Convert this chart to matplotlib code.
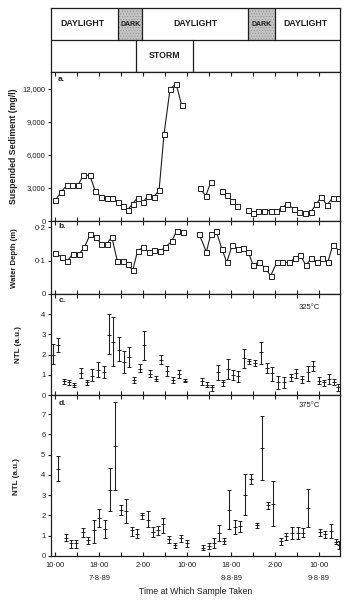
import numpy as np
import matplotlib
matplotlib.use("Agg")
import matplotlib.pyplot as plt
from matplotlib.patches import Rectangle
from matplotlib.transforms import blended_transform_factory

plt.rcParams['font.family'] = ['Liberation Sans', 'DejaVu Sans']
plt.rcParams['hatch.linewidth'] = 0.4

# time axis: hours after midnight on 7-8-89
tick_hours = [10, 14, 18, 22, 26, 30, 34, 38, 42, 46, 50, 54, 58]
tick_labels = ['10·00', '', '18·00', '', '2·00', '', '10·00', '', '18·00', '', '2·00', '', '10·00']
date_hours = [18, 42, 58]
date_labels = ['7·8·89', '8·8·89', '9·8·89']

# light / storm bars
dark_periods = [(21.5, 25.8), (45.0, 50.0)]
storm_period = (24.7, 35.0)
light_text_hours = [15.0, 35.5, 55.6]

# a. suspended sediment (mg/l), nan = no sample
sed_hours = [10.0, 11.1, 12.1, 13.1, 14.2, 15.1, 16.3, 17.3, 18.3, 19.4, 20.4, 21.4,
             22.3, 23.2, 24.1, 25.0, 26.0, 26.9, 28.0, 28.9, 29.8, 30.9, 32.0, 33.0,
             34.5, 36.3, 37.4, 38.3, 39.3, 40.4, 41.3, 42.2, 43.0, 44.0,
             45.0, 45.9, 46.9, 48.0, 49.2, 50.2, 51.2, 52.2, 53.4, 54.3, 55.4, 56.5,
             57.5, 58.4, 59.4, 60.5, 61.4]
sed_vals = [1880, 2640, 3250, 3310, 3310, 4150, 4150, 2700, 2220, 2130, 2130, 1730,
            1340, 1030, 1580, 2130, 1730, 2310, 2220, 2820, 7930, 12030, 12450, 10540,
            np.nan, 2980, 2280, 3550, np.nan, 2760, 2340, 1820, 1400, np.nan,
            1000, 730, 910, 940, 940, 880, 1215, 1520, 1120, 850, 730, 820,
            1550, 2220, 1430, 2130, 2050]

# b. water depth (m)
wd_hours = [10.05, 11.2, 12.2, 13.2, 14.4, 15.3, 16.4, 17.4, 18.3, 19.4, 20.3, 21.3,
            22.3, 23.2, 24.1, 25.0, 26.0, 27.0, 28.0, 29.1, 30.0, 31.2, 32.1, 33.3,
            34.8, 36.2, 37.5, 38.3, 39.3, 40.3, 41.2, 42.2, 43.3, 44.2, 45.1, 46.0,
            47.1, 48.2, 49.2, 50.3, 51.3, 52.5, 53.7, 54.6, 55.6, 56.6, 57.7, 58.6,
            59.6, 60.5, 61.6]
wd_vals = [0.122, 0.111, 0.098, 0.121, 0.121, 0.140, 0.180, 0.171, 0.151, 0.151, 0.171, 0.099,
           0.099, 0.089, 0.071, 0.130, 0.140, 0.126, 0.132, 0.129, 0.140, 0.158, 0.190, 0.186,
           np.nan, 0.179, 0.126, 0.179, 0.188, 0.136, 0.095, 0.147, 0.136, 0.139, 0.127, 0.086,
           0.097, 0.077, 0.055, 0.095, 0.095, 0.095, 0.107, 0.116, 0.086, 0.107, 0.096, 0.107,
           0.096, 0.148, 0.130]

# c. NTL at 325 C (mean, low, high)
c_hours = [9.6, 10.5, 11.6, 12.5, 13.5, 14.7, 15.7, 16.7, 17.7, 18.8, 19.7, 20.6, 21.6,
           22.6, 23.5, 24.4, 25.4, 26.2, 27.3, 28.3, 29.2, 30.3, 31.5, 32.5, 33.6,
           36.7, 37.7, 38.6, 39.6, 40.5, 41.5, 42.4, 43.3, 44.4, 45.3, 46.3, 47.4, 48.5,
           49.5, 50.6, 51.7, 52.8, 53.8, 54.9, 55.9, 56.9, 58.0, 58.8, 59.8, 60.7, 61.5]
c_mid = [2.00, 2.49, 0.68, 0.63, 0.51, 1.08, 0.63, 0.96, 1.26, 1.16, 2.99, 2.62, 2.24,
         1.63, 1.88, 0.75, 1.30, 2.49, 1.05, 0.80, 1.74, 1.21, 0.75, 1.05, 0.71,
         0.68, 0.51, 0.38, 1.13, 0.63, 1.30, 1.01, 0.96, 1.84, 1.68, 1.58, 2.13, 1.33,
         1.08, 0.63, 0.63, 0.88, 1.08, 0.80, 1.13, 1.43, 0.71, 0.63, 0.80, 0.66, 0.38]
c_low = [1.51, 2.13, 0.55, 0.50, 0.38, 0.85, 0.50, 0.68, 0.88, 0.85, 2.01, 1.46, 1.68,
         1.08, 1.38, 0.60, 1.13, 1.74, 0.88, 0.68, 1.54, 0.96, 0.60, 0.83, 0.63,
         0.51, 0.38, 0.22, 0.75, 0.47, 0.80, 0.76, 0.66, 1.35, 1.54, 1.43, 1.54, 1.08,
         0.71, 0.30, 0.35, 0.68, 0.85, 0.58, 0.71, 1.21, 0.55, 0.47, 0.55, 0.50, 0.22]
c_high = [2.54, 2.82, 0.80, 0.76, 0.61, 1.33, 0.76, 1.30, 1.63, 1.43, 4.00, 3.87, 2.87,
          2.18, 2.38, 0.88, 1.54, 3.17, 1.25, 0.96, 1.96, 1.46, 0.88, 1.25, 0.80,
          0.83, 0.63, 0.50, 1.50, 0.76, 1.79, 1.25, 1.21, 2.29, 1.79, 1.71, 2.62, 1.58,
          1.41, 0.93, 0.88, 1.05, 1.30, 0.96, 1.46, 1.66, 0.91, 0.76, 1.05, 0.80, 0.55]

# d. NTL at 375 C
d_hours = [10.6, 11.9, 12.8, 13.8, 15.0, 16.0, 17.0, 18.0, 19.1, 20.0, 20.9, 22.0,
           22.9, 23.9, 24.8, 25.7, 26.8, 27.7, 28.7, 29.7, 30.7, 31.8, 32.9, 34.0,
           36.9, 37.9, 38.9, 39.8, 40.7, 41.6, 42.7, 43.6, 44.5, 45.6, 46.7, 47.7,
           48.7, 49.7, 51.0, 52.0, 53.1, 54.2, 55.1, 56.0, 58.1, 59.0, 60.1, 61.0, 61.6]
d_mid = [4.31, 0.90, 0.62, 0.62, 1.20, 0.79, 1.26, 1.89, 1.34, 3.25, 5.41, 2.26,
         2.21, 1.28, 1.11, 2.02, 1.80, 1.18, 1.28, 1.56, 0.82, 0.52, 0.87, 0.66,
         0.41, 0.49, 0.66, 1.15, 0.74, 2.26, 1.44, 1.48, 3.03, 3.80, 1.52, 5.33,
         2.54, 2.59, 0.74, 0.98, 1.15, 1.15, 1.15, 2.38, 1.18, 1.07, 1.23, 0.69, 0.52]
d_low = [3.69, 0.74, 0.41, 0.41, 0.95, 0.57, 0.66, 1.44, 0.90, 2.21, 3.28, 2.02,
         1.61, 0.98, 0.90, 1.85, 1.44, 0.95, 1.03, 1.15, 0.66, 0.38, 0.70, 0.46,
         0.28, 0.36, 0.41, 0.74, 0.61, 1.34, 1.07, 1.18, 2.02, 3.56, 1.39, 3.74,
         2.33, 1.48, 0.52, 0.79, 0.85, 0.85, 0.95, 1.43, 0.98, 0.90, 0.87, 0.57, 0.33]
d_high = [4.92, 1.07, 0.79, 0.79, 1.39, 0.95, 1.80, 2.34, 1.80, 4.34, 7.59, 2.54,
          2.79, 1.44, 1.31, 2.13, 2.21, 1.43, 1.48, 1.89, 0.98, 0.66, 1.03, 0.79,
          0.54, 0.62, 0.90, 1.51, 0.87, 3.25, 1.77, 1.72, 4.07, 4.07, 1.64, 6.92,
          2.66, 3.69, 0.90, 1.15, 1.45, 1.45, 1.40, 3.31, 1.34, 1.23, 1.56, 0.82, 0.74]

W, H = 350, 601
INK = '#1e1e1e'
XLIM = (9.24, 61.8)


def px_rect(left, top, right, bottom):
    return [left / W, 1 - bottom / H, (right - left) / W, (bottom - top) / H]


def style_panel(ax, ylim, yticks, yticklabels, letter):
    ax.set_xlim(*XLIM)
    ax.set_ylim(*ylim)
    ax.set_xticks(tick_hours)
    ax.set_xticklabels([])
    ax.tick_params(axis='x', direction='in', top=True, bottom=True, length=3,
                   width=0.8, color=INK)
    ax.set_yticks(yticks)
    ax.set_yticklabels(yticklabels, fontsize=5.5, color=INK)
    ax.tick_params(axis='y', direction='out', length=2.5, width=0.8, pad=1.5, color=INK)
    for s in ax.spines.values():
        s.set_linewidth(0.9)
        s.set_color(INK)
    ax.text(0.025, 0.97, letter, transform=ax.transAxes, ha='left', va='top',
            fontsize=6, fontweight='bold', color=INK)


def draw_errors(ax, hours, mid, low, high):
    mid = np.array(mid)
    err = [mid - np.array(low), np.array(high) - mid]
    ax.errorbar(hours, mid, yerr=err, fmt='_', ms=3.5, mew=0.7, color=INK,
                elinewidth=0.75, capsize=1.6, capthick=0.75)


fig = plt.figure(figsize=(W / 100, H / 100), dpi=100)

# light / storm box
box = fig.add_axes(px_rect(51, 8, 340, 72))
box.set_xlim(*XLIM)
box.set_ylim(0, 2)
box.set_xticks([])
box.set_yticks([])
for s in box.spines.values():
    s.set_linewidth(0.9)
    s.set_color(INK)
box.axhline(1, color=INK, lw=0.9)
for a, b in dark_periods:
    box.add_patch(Rectangle((a, 1), b - a, 1, facecolor='#c4c4c4', edgecolor='#8a8a8a',
                            hatch='......', lw=0))
    box.plot([a, a], [1, 2], color=INK, lw=0.9)
    box.plot([b, b], [1, 2], color=INK, lw=0.9)
    box.text((a + b) / 2, 1.5, 'DARK', ha='center', va='center', fontsize=5.0,
             fontweight='bold', color=INK)
for h in light_text_hours:
    box.text(h, 1.5, 'DAYLIGHT', ha='center', va='center', fontsize=6.3,
             fontweight='bold', color=INK)
for h in storm_period:
    box.plot([h, h], [0, 1], color=INK, lw=0.9)
box.text(sum(storm_period) / 2, 0.5, 'STORM', ha='center', va='center', fontsize=6.3,
         fontweight='bold', color=INK)

# a. suspended sediment
ax_a = fig.add_axes(px_rect(51, 72, 340, 221))
ax_a.plot(sed_hours, sed_vals, color=INK, lw=0.8, marker='s', ms=3.6,
          mfc='white', mec=INK, mew=0.7)
style_panel(ax_a, (0, 13550), [0, 3000, 6000, 9000, 12000],
            ['0', '3,000', '6,000', '9,000', '12,000'], 'a.')

# b. water depth
ax_b = fig.add_axes(px_rect(51, 221, 340, 294))
ax_b.plot(wd_hours, wd_vals, color=INK, lw=0.8, marker='s', ms=3.6,
          mfc='white', mec=INK, mew=0.7)
style_panel(ax_b, (0, 0.219), [0, 0.1, 0.2], ['0', '0·1', '0·2'], 'b.')

# c. NTL 325 C
ax_c = fig.add_axes(px_rect(51, 294, 340, 395))
draw_errors(ax_c, c_hours, c_mid, c_low, c_high)
style_panel(ax_c, (0, 5.0), [0, 1, 2, 3, 4], ['0', '1', '2', '3', '4'], 'c.')
ax_c.text(0.93, 0.87, '325°C', transform=ax_c.transAxes, ha='right', va='center',
          fontsize=5.5, color=INK)

# d. NTL 375 C
ax_d = fig.add_axes(px_rect(51, 395, 340, 556))
draw_errors(ax_d, d_hours, d_mid, d_low, d_high)
style_panel(ax_d, (0, 7.95), list(range(8)), [str(v) for v in range(8)], 'd.')
ax_d.text(0.93, 0.935, '375°C', transform=ax_d.transAxes, ha='right', va='center',
          fontsize=5.5, color=INK)
ax_d.set_xticklabels(tick_labels, fontsize=5.5, color=INK)
ax_d.tick_params(axis='x', pad=4)
trans = blended_transform_factory(ax_d.transData, fig.transFigure)
for h, lab in zip(date_hours, date_labels):
    ax_d.text(h, 1 - 578 / H, lab, transform=trans, ha='center', va='center',
              fontsize=5.5, color=INK)
fig.text(196 / W, 1 - 592 / H, 'Time at Which Sample Taken', ha='center', va='center',
         fontsize=6.3, color=INK)

# y labels
fig.text(14 / W, 1 - 146 / H, 'Suspended Sediment (mg/l)', rotation=90, ha='center',
         va='center', fontsize=6.3, fontweight='bold', color=INK)
fig.text(14 / W, 1 - 258 / H, 'Water Depth (m)', rotation=90, ha='center',
         va='center', fontsize=5.6, fontweight='bold', color=INK)
fig.text(19 / W, 1 - 345 / H, 'NTL (a.u.)', rotation=90, ha='center',
         va='center', fontsize=5.8, fontweight='bold', color=INK)
fig.text(17 / W, 1 - 477 / H, 'NTL (a.u.)', rotation=90, ha='center',
         va='center', fontsize=5.8, fontweight='bold', color=INK)

fig.savefig('out.png', dpi=100)
